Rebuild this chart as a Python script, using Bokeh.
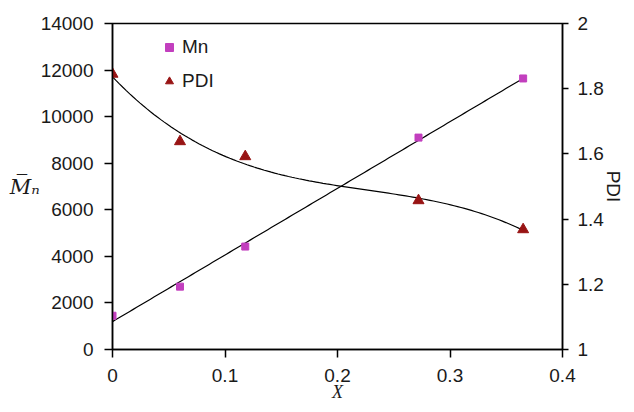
import numpy as np
from bokeh.plotting import figure
from bokeh.models import (Range1d, LinearAxis, FixedTicker, CustomJSTickFormatter,
                          Legend, LegendItem)
from bokeh.embed import file_html
from bokeh.resources import INLINE

# ---- data ----
conversion = [0.0, 0.06, 0.118, 0.272, 0.365]
mn_values = [1450, 2700, 4420, 9100, 11640]
pdi_values = [1.845, 1.638, 1.592, 1.457, 1.368]

x_ticks = [0, 0.1, 0.2, 0.3, 0.4]
mn_ticks = [0, 2000, 4000, 6000, 8000, 10000, 12000, 14000]
pdi_ticks = [1, 1.2, 1.4, 1.6, 1.8, 2]

# trendlines (least-squares fits of the data, as in the original chart)
mn_fit = np.polyfit(conversion, mn_values, 1)
pdi_fit = np.polyfit(conversion, pdi_values, 3)
xs_fit = np.linspace(min(conversion), max(conversion), 120)

FONT = "Liberation Sans"
INK = "#1a1a1a"

p = figure(width=626, height=404, output_backend="svg", toolbar_location=None,
           x_range=Range1d(0, 0.4), y_range=Range1d(0, 14000),
           min_border_left=112, min_border_top=23, min_border_right=60,
           min_border_bottom=55)
p.xgrid.visible = False
p.ygrid.visible = False
p.outline_line_color = "black"
p.outline_line_width = 1.5
p.background_fill_color = "white"
p.border_fill_color = "white"

p.extra_y_ranges = {"pdi": Range1d(1, 2)}

fmt = CustomJSTickFormatter(code="return String(parseFloat(tick.toFixed(4)));")

# left axis
ya = p.yaxis[0]
ya.ticker = FixedTicker(ticks=mn_ticks)
ya.formatter = fmt
ya.major_tick_out = 8
ya.major_label_standoff = 11
ya.axis_label = "M\u0305\u2099"
ya.axis_label_text_font = "DejaVu Serif"
ya.axis_label_text_font_style = "italic"
ya.axis_label_text_font_size = "21px"
ya.axis_label_standoff = -2
try:
    ya.axis_label_orientation = "horizontal"
except Exception:
    pass

# bottom axis
xa = p.xaxis[0]
xa.ticker = FixedTicker(ticks=x_ticks)
xa.formatter = fmt
xa.major_tick_out = 8
xa.major_label_standoff = 11
xa.axis_label = "X"
xa.axis_label_text_font = "Liberation Serif"
xa.axis_label_text_font_style = "italic"
xa.axis_label_text_font_size = "18px"
xa.axis_label_standoff = -3

# right axis
ra = LinearAxis(y_range_name="pdi", ticker=FixedTicker(ticks=pdi_ticks), formatter=fmt)
ra.major_tick_out = 6
ra.major_label_standoff = 9
ra.axis_label = "PDI"
ra.axis_label_text_font = FONT
ra.axis_label_text_font_style = "normal"
ra.axis_label_text_font_size = "19px"
ra.axis_label_standoff = -4
p.add_layout(ra, "right")

for ax in (ya, xa, ra):
    ax.minor_tick_line_color = None
    ax.major_tick_in = 0
    ax.axis_line_color = "black"
    ax.axis_line_width = 1.5
    ax.major_tick_line_color = "black"
    ax.major_tick_line_width = 1.5
    ax.major_label_text_font = FONT
    ax.major_label_text_font_size = "19px"
    ax.major_label_text_color = INK
    ax.axis_label_text_color = INK

# trendlines
p.line(xs_fit, np.polyval(mn_fit, xs_fit), line_color="black", line_width=1.2)
p.line(xs_fit, np.polyval(pdi_fit, xs_fit), line_color="black", line_width=1.2,
       y_range_name="pdi")

# markers
r_mn = p.scatter(conversion, mn_values, marker="square", size=7,
                 fill_color="#c23fbe", line_color="#c23fbe")
r_pdi = p.scatter(conversion, pdi_values, marker="triangle", size=11,
                  fill_color="#981414", line_color="#981414", y_range_name="pdi")

legend = Legend(items=[LegendItem(label="Mn", renderers=[r_mn]),
                       LegendItem(label="PDI", renderers=[r_pdi])],
                location=(47, 257), border_line_color=None, background_fill_alpha=0,
                padding=0, margin=0, spacing=12, glyph_width=20, glyph_height=20,
                label_height=20, label_standoff=3,
                label_text_font=FONT, label_text_font_size="19px",
                label_text_color=INK)
p.add_layout(legend, "center")

open("out.html", "w").write(file_html(p, INLINE))
